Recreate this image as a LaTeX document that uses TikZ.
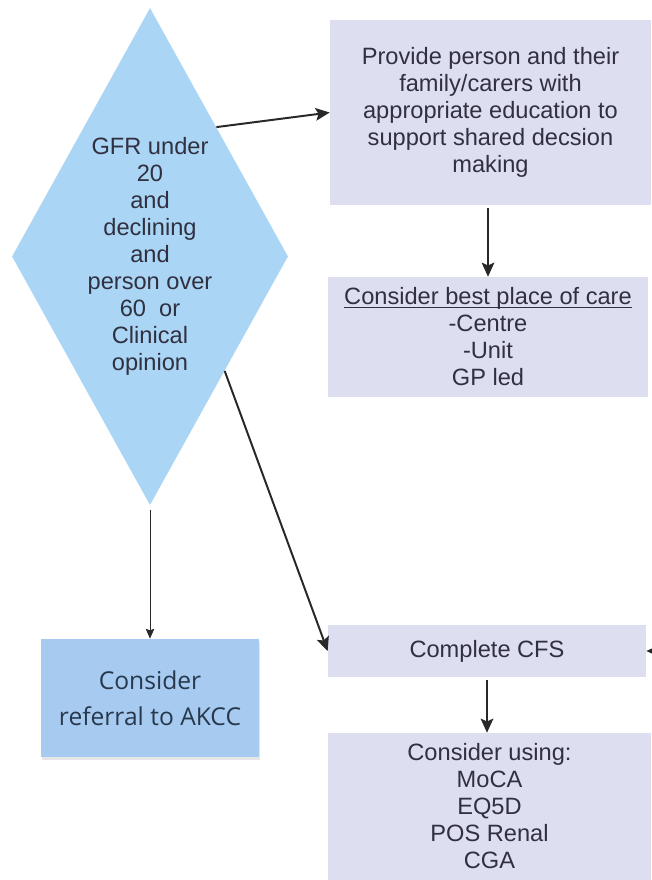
\documentclass[tikz,border=0pt]{standalone}
\usepackage{fontspec}
\setmainfont{Liberation Sans}
\newfontfamily\akccfont{Open Sans}
\usepackage{tikz}
\usetikzlibrary{arrows.meta,shapes.geometric,positioning,calc,shadows}
\definecolor{gfrBlue}    {RGB}{170, 213, 245}
\definecolor{akccBlue}   {RGB}{166, 202, 240}
\definecolor{careLilac}  {RGB}{221, 222, 240}
\definecolor{inkGrey}    {RGB}{ 48,  48,  64}
\definecolor{arrowGrey}  {RGB}{ 40,  40,  40}
\newcommand\careline[1]{\setbox0\hbox{#1}\rlap{\rule[-2.2pt]{\wd0}{0.7pt}}\box0}
\begin{document}
\begin{tikzpicture}[x=0.025cm,y=-0.025cm,
    carebox/.style={fill=careLilac,draw=none,align=center,inner sep=0pt,
      text=inkGrey,font=\fontsize{16.8}{19.2}\selectfont},
    flowarrow/.style={draw=arrowGrey,line width=1.4pt,
      -{Stealth[length=10pt,width=9pt,inset=2pt]}},
    thinarrow/.style={draw=arrowGrey,line width=0.7pt,
      -{Stealth[length=7pt,width=6pt,inset=1pt]}}]

    \useasboundingbox (0,0) rectangle (651,880);

    \node[diamond,fill=gfrBlue,inner sep=0pt,shape aspect=0.555,
          minimum width=6.9cm,minimum height=12.425cm,align=center,
          text=inkGrey,font=\fontsize{16.8}{19.2}\selectfont] (gfr) at (150,256.5)
      {GFR under\\20\\and\\declining\\and\\person over\\60\ \ or\\Clinical\\opinion};

    \node[carebox,minimum width=8.025cm,minimum height=4.625cm] (educate) at (490.5,112.5)
      {Provide person and their\\family/carers with\\appropriate education to\\support shared decsion\\making};
    \node[carebox,minimum width=8cm,minimum height=3cm] (place) at (488,337)
      {\careline{Consider best place of care}\\-Centre\\-Unit\\GP led};
    \node[carebox,minimum width=7.95cm,minimum height=1.3cm] (cfs) at (487,651)
      {Complete CFS};
    \node[carebox,minimum width=8.075cm,minimum height=3.675cm] (tools) at (489.5,806.5)
      {Consider using:\\MoCA\\EQ5D\\POS Renal\\CGA};

    \node[fill=akccBlue,draw=none,align=center,inner sep=0pt,
          minimum width=5.45cm,minimum height=2.95cm,
          text={rgb,255:red,40;green,56;blue,76},
          font=\akccfont\fontsize{17.5}{25.6}\selectfont,
          drop shadow={shadow xshift=0.02cm,shadow yshift=-0.08cm,opacity=0.2}]
          (akcc) at (150,698) {Consider\\referral to AKCC};

    \coordinate (offpage) at (655,651);

    \draw[flowarrow] ($(gfr.north)!0.48!(gfr.east)$) -- (educate.west);
    \draw[flowarrow] ($(gfr.east)!0.46!(gfr.south)$) -- (cfs.west);
    \draw[thinarrow] ($(gfr.south)+(0,5)$) -- (akcc.north);
    \draw[flowarrow] ($(place.north |- educate.south)+(0,3)$) -- (place.north);
    \draw[flowarrow] ($(cfs.south)+(0,3)$) -- (cfs.south |- tools.north);
    \draw[flowarrow] (offpage) -- (cfs.east);

  \end{tikzpicture}
\end{document}
